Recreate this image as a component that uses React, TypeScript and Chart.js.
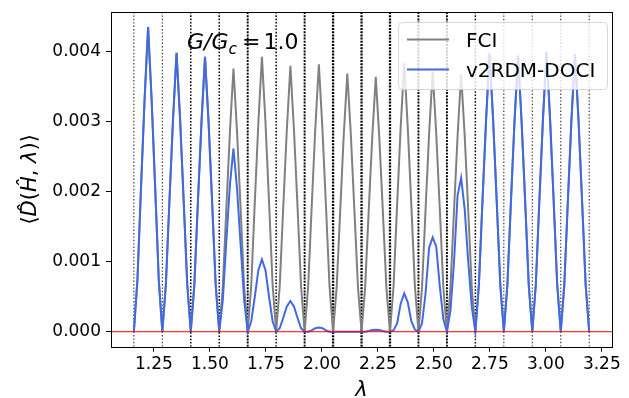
import React, { useEffect, useRef } from 'react';
import { Chart, registerables } from 'chart.js';

Chart.register(...registerables);

// λ sample grid
const lambdaGrid = [
  1.1606, 1.1765, 1.1924, 1.2083, 1.2241, 1.2400, 1.2559, 1.2718,
  1.2877, 1.3036, 1.3194, 1.3353, 1.3512, 1.3671, 1.3830, 1.3989,
  1.4147, 1.4306, 1.4465, 1.4624, 1.4783, 1.4942, 1.5100, 1.5259,
  1.5418, 1.5577, 1.5736, 1.5895, 1.6053, 1.6212, 1.6371, 1.6530,
  1.6689, 1.6848, 1.7006, 1.7165, 1.7324, 1.7483, 1.7642, 1.7801,
  1.7960, 1.8118, 1.8277, 1.8436, 1.8595, 1.8754, 1.8913, 1.9071,
  1.9230, 1.9389, 1.9548, 1.9707, 1.9866, 2.0024, 2.0183, 2.0342,
  2.0501, 2.0660, 2.0819, 2.0977, 2.1136, 2.1295, 2.1454, 2.1613,
  2.1772, 2.1930, 2.2089, 2.2248, 2.2407, 2.2566, 2.2725, 2.2883,
  2.3042, 2.3201, 2.3360, 2.3519, 2.3678, 2.3836, 2.3995, 2.4154,
  2.4313, 2.4472, 2.4631, 2.4789, 2.4948, 2.5107, 2.5266, 2.5425,
  2.5584, 2.5742, 2.5901, 2.6060, 2.6219, 2.6378, 2.6536, 2.6695,
  2.6854, 2.7013, 2.7172, 2.7331, 2.7489, 2.7648, 2.7807, 2.7966,
  2.8125, 2.8284, 2.8442, 2.8601, 2.8760, 2.8919, 2.9078, 2.9237,
  2.9396, 2.9554, 2.9713, 2.9872, 3.0031, 3.0190, 3.0349, 3.0507,
  3.0667, 3.0825, 3.0984, 3.1143, 3.1302, 3.1461, 3.1619, 3.1778,
  3.1937,
];

// FCI expectation values
const fciValues = [
  0, 0.00074, 0.00205, 0.00331, 0.004357, 0.00331, 0.00205, 0.00074,
  0, 0.00068, 0.00187, 0.00303, 0.003986, 0.00303, 0.00187, 0.00068,
  0, 0.00067, 0.00185, 0.00299, 0.003929, 0.00299, 0.00185, 0.00067,
  0, 0.00064, 0.00177, 0.00286, 0.003763, 0.00286, 0.00177, 0.00064,
  0, 0.00067, 0.00185, 0.00299, 0.003929, 0.00299, 0.00185, 0.00067,
  0, 0.00065, 0.00179, 0.00289, 0.0038, 0.00289, 0.00179, 0.00065,
  0, 0.00065, 0.0018, 0.00291, 0.003824, 0.00291, 0.0018, 0.00065,
  0, 0.00063, 0.00173, 0.00281, 0.003691, 0.00281, 0.00173, 0.00063,
  0, 0.00062, 0.00171, 0.00277, 0.003643, 0.00277, 0.00171, 0.00062,
  0, 0.00065, 0.00181, 0.00292, 0.003843, 0.00292, 0.00181, 0.00065,
  0, 0.00063, 0.00175, 0.00283, 0.003724, 0.00283, 0.00175, 0.00063,
  0, 0.00063, 0.00173, 0.0028, 0.003681, 0.0028, 0.00173, 0.00063,
  0, 0.00068, 0.00187, 0.00302, 0.00398, 0.00302, 0.00187, 0.00068,
  0, 0.00067, 0.00186, 0.003, 0.00395, 0.003, 0.00186, 0.00067,
  0, 0.00068, 0.00188, 0.00304, 0.004, 0.00304, 0.00188, 0.00068,
  0, 0.00067, 0.00187, 0.00302, 0.00397, 0.00302, 0.00187, 0.00067,
  0,
];

// v2RDM-DOCI expectation values
const dociValues = [
  0, 0.00074, 0.00205, 0.00331, 0.004357, 0.00331, 0.00205, 0.00074,
  0, 0.00068, 0.00187, 0.00303, 0.003986, 0.00303, 0.00187, 0.00068,
  0, 0.00067, 0.00185, 0.00299, 0.003929, 0.00299, 0.00185, 0.00067,
  0, 0.00045, 0.0013, 0.0021, 0.00262, 0.00205, 0.00125, 0.00045,
  0, 0.00015, 0.0005, 0.00088, 0.001034, 0.00088, 0.0005, 0.00015,
  0, 0.00005, 0.0002, 0.00036, 0.000439, 0.00036, 0.0002, 0.00005,
  0, 0, 0.00002, 0.00005, 0.00006, 0.00005, 0.00002, 0,
  0, 0, 0, 0, 0, 0, 0, 0,
  0, 0, 0.00001, 0.000025, 0.00003, 0.000025, 0.00001, 0,
  0, 0.00002, 0.00012, 0.0004, 0.000549, 0.00042, 0.00015, 0.00003,
  0, 0.00012, 0.00055, 0.0012, 0.001349, 0.00122, 0.00065, 0.00018,
  0, 0.0003, 0.001, 0.00195, 0.0022, 0.00175, 0.001, 0.00035,
  0, 0.00068, 0.00187, 0.00302, 0.00398, 0.00302, 0.00187, 0.00068,
  0, 0.00067, 0.00186, 0.003, 0.00395, 0.003, 0.00186, 0.00067,
  0, 0.00068, 0.00188, 0.00304, 0.004, 0.00304, 0.00188, 0.00068,
  0, 0.00067, 0.00187, 0.00302, 0.00397, 0.00302, 0.00187, 0.00067,
  0,
];

// level-crossing positions (vertical dotted lines) and how many overlap there
const crossingLambdas = [
  1.1606, 1.2877, 1.4147, 1.5418, 1.6689, 1.7960, 1.9230, 2.0501, 2.1772,
  2.3042, 2.4313, 2.5584, 2.6854, 2.8125, 2.9396, 3.0667, 3.1937,
];
const crossingMultiplicity = [1, 1, 2, 2, 3, 2, 3, 4, 4, 4, 3, 3, 2, 1, 1, 1, 1];

const xTickValues = [1.25, 1.5, 1.75, 2.0, 2.25, 2.5, 2.75, 3.0, 3.25];
const yTickValues = [0, 0.001, 0.002, 0.003, 0.004];
const xLimits = [1.0585, 3.2955];
const yLimits = [-0.000214, 0.004571];
const seriesLabels = ['FCI', 'v2RDM-DOCI'];
const referenceLevel = 0;

const FONT = '"DejaVu Sans"';
const GRAY = '#808080';
const BLUE = '#4169e1';

const decorPlugin = {
  id: 'decor',
  beforeDatasetsDraw(chart: any) {
    const { ctx, chartArea } = chart;
    const xs = chart.scales.x;
    ctx.save();
    ctx.beginPath();
    ctx.rect(chartArea.left, chartArea.top, chartArea.right - chartArea.left, chartArea.bottom - chartArea.top);
    ctx.clip();
    crossingLambdas.forEach((lam, i) => {
      const m = crossingMultiplicity[i];
      const px = xs.getPixelForValue(lam);
      ctx.beginPath();
      ctx.strokeStyle = m === 1 ? 'rgba(0,0,0,0.85)' : '#000';
      ctx.lineWidth = m === 1 ? 1.1 : m === 2 ? 1.5 : m === 3 ? 1.9 : 2.3;
      ctx.setLineDash(m === 1 ? [1.4, 2.0] : m === 2 ? [1.6, 1.7] : [2, 1.2]);
      ctx.moveTo(px, chartArea.top);
      ctx.lineTo(px, chartArea.bottom);
      ctx.stroke();
    });
    ctx.restore();
  },
  afterDatasetsDraw(chart: any) {
    const { ctx, chartArea } = chart;
    const ys = chart.scales.y;
    ctx.save();
    // red reference line
    const y0 = ys.getPixelForValue(referenceLevel);
    ctx.beginPath();
    ctx.strokeStyle = '#ff0000';
    ctx.lineWidth = 1;
    ctx.moveTo(chartArea.left, y0);
    ctx.lineTo(chartArea.right, y0);
    ctx.stroke();
    // spines
    ctx.strokeStyle = '#000';
    ctx.lineWidth = 1;
    ctx.strokeRect(
      Math.round(chartArea.left) + 0.5,
      Math.round(chartArea.top) + 0.5,
      Math.round(chartArea.right) - Math.round(chartArea.left),
      Math.round(chartArea.bottom) - Math.round(chartArea.top)
    );
    ctx.restore();
  },
  afterDraw(chart: any) {
    const { ctx, chartArea } = chart;
    ctx.save();
    // legend
    const lw = 209;
    const lh = 67;
    const lx = chartArea.right - 5 - lw;
    const ly = chartArea.top + 10;
    ctx.beginPath();
    (ctx as any).roundRect(lx + 0.5, ly + 0.5, lw, lh, 4);
    ctx.fillStyle = 'rgba(255,255,255,0.8)';
    ctx.fill();
    ctx.strokeStyle = 'rgba(204,204,204,0.8)';
    ctx.lineWidth = 1;
    ctx.stroke();
    const colors = [GRAY, BLUE];
    seriesLabels.forEach((lab, i) => {
      const ry = ly + 17.6 + i * 30;
      ctx.beginPath();
      ctx.strokeStyle = colors[i];
      ctx.lineWidth = 2;
      ctx.moveTo(lx + 9, ry);
      ctx.lineTo(lx + 51, ry);
      ctx.stroke();
      ctx.fillStyle = '#000';
      ctx.font = `20px ${FONT}`;
      ctx.textBaseline = 'alphabetic';
      ctx.textAlign = 'left';
      ctx.fillText(lab, lx + 68, ry + 7.2);
    });

    // annotation G/G_c = 1.0
    let ax = chartArea.left + 76;
    const ab = chartArea.top + 36.6;
    ctx.fillStyle = '#000';
    ctx.textBaseline = 'alphabetic';
    ctx.font = `italic 22px ${FONT}`;
    ctx.fillText('G/G', ax, ab);
    ax += ctx.measureText('G/G').width;
    ctx.font = `italic 15.5px ${FONT}`;
    ctx.fillText('c', ax, ab + 5);
    ax += ctx.measureText('c').width + 5;
    ctx.font = `22px ${FONT}`;
    ctx.fillText('=', ax, ab);
    ax += ctx.measureText('=').width + 3;
    ctx.fillText('1.0', ax, ab);

    // x title
    ctx.font = `italic 21px ${FONT}`;
    ctx.textAlign = 'center';
    ctx.fillText('λ', (chartArea.left + chartArea.right) / 2, 396);

    // y title
    const parts: [string, boolean][] = [
      ['⟨', false], ['D\u0302', true], ['(', false], ['H\u0302', true],
      [', ', false], ['λ', true], [')', false], ['⟩', false],
    ];
    ctx.translate(31, (chartArea.top + chartArea.bottom) / 2);
    ctx.rotate(-Math.PI / 2);
    ctx.textAlign = 'left';
    ctx.textBaseline = 'middle';
    let total = 0;
    parts.forEach(([t, it]) => {
      ctx.font = `${it ? 'italic ' : ''}21px ${FONT}`;
      total += ctx.measureText(t).width;
    });
    let px = -total / 2;
    parts.forEach(([t, it]) => {
      ctx.font = `${it ? 'italic ' : ''}21px ${FONT}`;
      ctx.fillText(t, px, 0);
      px += ctx.measureText(t).width;
    });
    ctx.restore();
  },
};

export default function App() {
  const ref = useRef<HTMLCanvasElement | null>(null);
  useEffect(() => {
    if (!ref.current) return;
    Chart.defaults.font.family = FONT;
    const chart = new Chart(ref.current, {
      type: 'line',
      data: {
        datasets: [
          {
            label: seriesLabels[0],
            data: lambdaGrid.map((x, i) => ({ x, y: fciValues[i] })),
            borderColor: GRAY,
            borderWidth: 2,
            pointRadius: 0,
            tension: 0,
            fill: false,
            order: 1,
          },
          {
            label: seriesLabels[1],
            data: lambdaGrid.map((x, i) => ({ x, y: dociValues[i] })),
            borderColor: BLUE,
            borderWidth: 2,
            pointRadius: 0,
            tension: 0,
            fill: false,
            order: 0,
          },
        ],
      },
      options: {
        responsive: false,
        animation: false,
        layout: { padding: { top: 12, right: 17, left: 0, bottom: 0 } },
        plugins: { legend: { display: false }, tooltip: { enabled: false } },
        scales: {
          x: {
            type: 'linear',
            min: xLimits[0],
            max: xLimits[1],
            afterBuildTicks: (s: any) => {
              s.ticks = xTickValues.map((v) => ({ value: v }));
            },
            afterFit: (s: any) => {
              s.height = 51.3;
              s.paddingLeft = 0;
              s.paddingRight = 0;
            },
            ticks: {
              callback: (v: any) => Number(v).toFixed(2),
              font: { family: FONT, size: 17 },
              color: '#000',
              padding: 3,
              maxRotation: 0,
              autoSkip: false,
            },
            grid: { display: true, drawOnChartArea: false, drawTicks: true, tickLength: 5, color: '#000', lineWidth: 1 },
            border: { display: false },
          },
          y: {
            type: 'linear',
            min: yLimits[0],
            max: yLimits[1],
            afterBuildTicks: (s: any) => {
              s.ticks = yTickValues.map((v) => ({ value: v }));
            },
            afterFit: (s: any) => {
              s.width = 111;
              s.paddingTop = 0;
              s.paddingBottom = 0;
            },
            ticks: {
              callback: (v: any) => Number(v).toFixed(3),
              font: { family: FONT, size: 17 },
              color: '#000',
              padding: 5,
              autoSkip: false,
            },
            grid: { display: true, drawOnChartArea: false, drawTicks: true, tickLength: 5, color: '#000', lineWidth: 1 },
            border: { display: false },
          },
        },
      },
      plugins: [decorPlugin],
    } as any);
    return () => chart.destroy();
  }, []);
  return (
    <div style={{ position: 'fixed', left: 0, top: 0, width: 629, height: 398, background: '#fff' }}>
      <canvas ref={ref} width={629} height={398} style={{ display: 'block' }} />
    </div>
  );
}
